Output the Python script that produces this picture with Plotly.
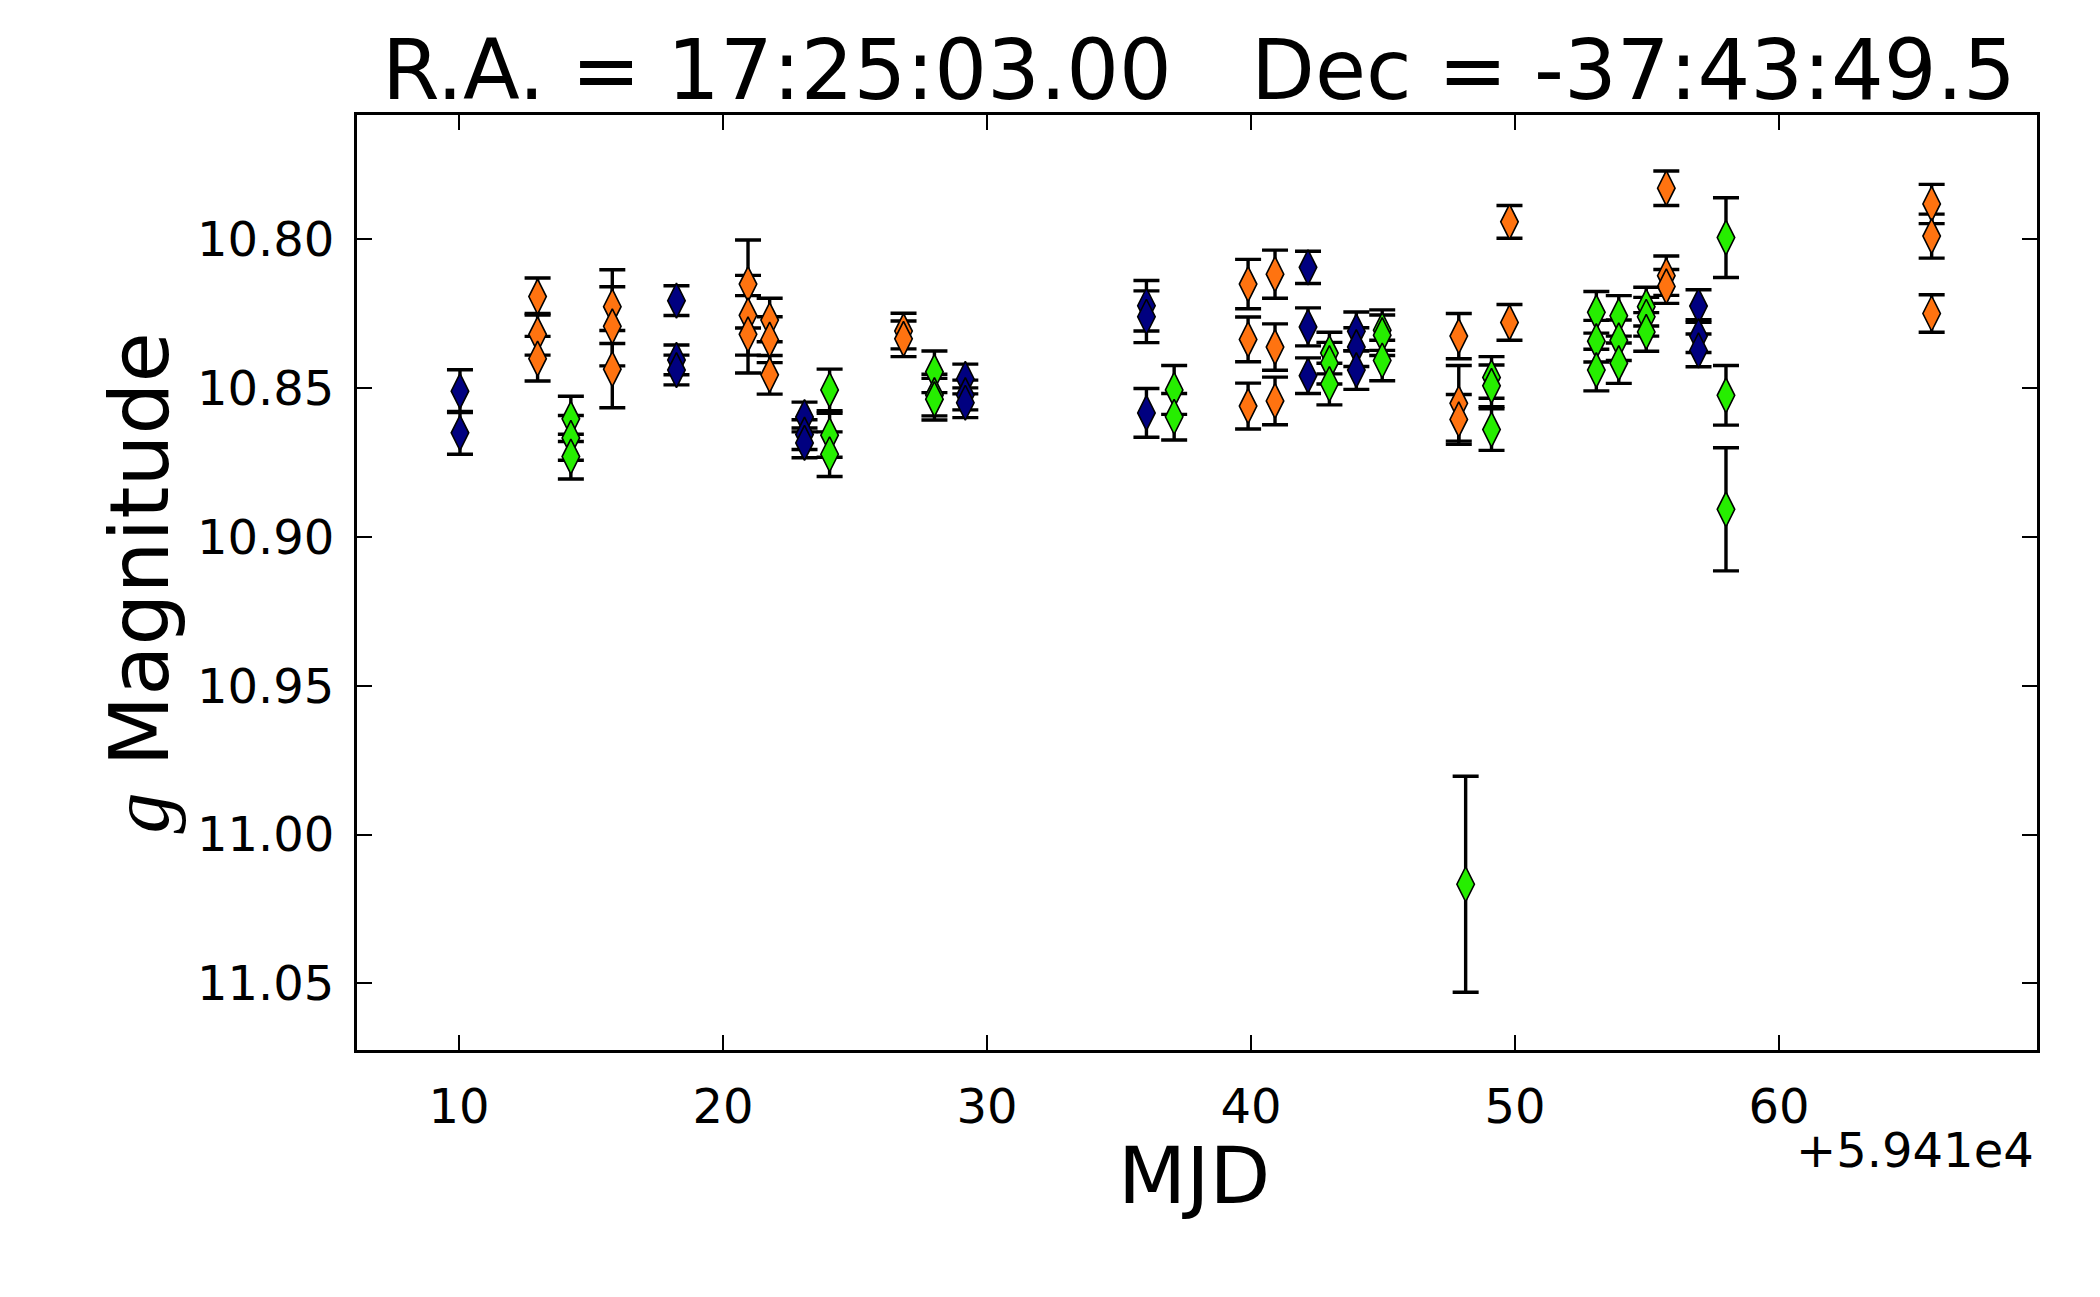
import plotly.graph_objects as go

MJD_OFFSET = 59410
TITLE = "R.A. = 17:25:03.00   Dec = -37:43:49.5"

# Blue (navy) series: MJD - 59410, magnitude, error
blue_x = [10.04, 10.04, 18.24, 18.24, 18.24, 23.09, 23.09, 23.09, 29.18, 29.18, 29.18,
          36.04, 36.04, 36.04, 42.16, 42.16, 42.16, 43.99, 43.99, 43.99, 56.95, 56.95, 56.95]
blue_y = [10.851, 10.865, 10.8206, 10.8405, 10.8439, 10.8597, 10.8656, 10.8684, 10.8469, 10.8523, 10.8549,
          10.8223, 10.826, 10.8583, 10.8094, 10.8294, 10.8458, 10.8309, 10.8362, 10.8439, 10.8224, 10.8325, 10.8373]
blue_e = [0.0072, 0.0072, 0.005, 0.005, 0.005, 0.005, 0.005, 0.005, 0.005, 0.005, 0.005,
          0.0085, 0.0087, 0.0082, 0.0054, 0.0064, 0.006, 0.0065, 0.0065, 0.0065, 0.0055, 0.0055, 0.0055]

# Orange series
orange_x = [12.98, 12.98, 12.98, 15.81, 15.81, 15.81, 20.95, 20.95, 20.95, 21.77, 21.77, 21.77,
            26.84, 26.84, 39.89, 39.89, 39.89, 40.91, 40.91, 40.91, 47.87, 47.87, 47.87,
            49.79, 49.79, 55.73, 55.73, 55.73, 65.78, 65.78, 65.78]
orange_y = [10.8192, 10.8319, 10.8401, 10.8226, 10.8292, 10.8436, 10.815, 10.8255, 10.8319, 10.8271, 10.8337, 10.8455,
            10.8308, 10.8334, 10.815, 10.8336, 10.856, 10.8117, 10.8362, 10.8543, 10.8325, 10.8551, 10.8605,
            10.7941, 10.8279, 10.7828, 10.8122, 10.8158, 10.7881, 10.7989, 10.8249]
orange_e = [0.0062, 0.007, 0.0075, 0.0124, 0.0133, 0.013, 0.0148, 0.0134, 0.013, 0.0073, 0.0077, 0.0065,
            0.006, 0.006, 0.0083, 0.0075, 0.0077, 0.0081, 0.0078, 0.008, 0.0076, 0.0127, 0.0084,
            0.0055, 0.006, 0.0058, 0.0066, 0.0057, 0.0066, 0.0074, 0.0063]

# Green series
green_x = [14.24, 14.24, 14.24, 24.04, 24.04, 24.04, 28.01, 28.01, 28.01, 37.09, 37.09,
           42.97, 42.97, 42.97, 44.97, 44.97, 44.97, 48.13, 49.11, 49.11, 49.11,
           53.08, 53.08, 53.08, 53.93, 53.93, 53.93, 54.97, 54.97, 54.97, 57.99, 57.99, 57.99]
green_y = [10.8603, 10.8667, 10.873, 10.8506, 10.8658, 10.8722, 10.8445, 10.8523, 10.8537, 10.8506, 10.8596,
           10.8382, 10.8416, 10.8486, 10.8305, 10.8322, 10.8407, 11.0167, 10.8464, 10.8492, 10.8639,
           10.8245, 10.8342, 10.8439, 10.8257, 10.8339, 10.8416, 10.8226, 10.826, 10.8311, 10.7994, 10.8524, 10.8907]
green_e = [0.0076, 0.0075, 0.0075, 0.007, 0.0074, 0.0075, 0.007, 0.007, 0.007, 0.0082, 0.0078,
           0.007, 0.007, 0.007, 0.0068, 0.0068, 0.0068, 0.0363, 0.007, 0.007, 0.007,
           0.007, 0.007, 0.007, 0.0068, 0.0068, 0.0068, 0.0065, 0.0065, 0.0065, 0.0134, 0.010, 0.0207]

x_ticks = [10, 20, 30, 40, 50, 60]
y_ticks = [10.80, 10.85, 10.90, 10.95, 11.00, 11.05]
y_tick_text = ["10.80", "10.85", "10.90", "10.95", "11.00", "11.05"]

series = [
    (blue_x, blue_y, blue_e, "#000080"),
    (orange_x, orange_y, orange_e, "#ff7310"),
    (green_x, green_y, green_e, "#26ee00"),
]

FONT = "DejaVu Sans"
fig = go.Figure()
for xs, ys, es, col in series:
    fig.add_trace(go.Scatter(
        x=xs, y=ys, mode="markers",
        marker=dict(symbol="diamond-tall", size=25, color=col,
                    line=dict(color="black", width=1.6)),
        error_y=dict(type="data", array=es, visible=True, color="black",
                     thickness=3.4, width=13),
        showlegend=False,
    ))

axis_common = dict(
    showline=True, linecolor="black", linewidth=3, mirror="ticks",
    ticks="inside", ticklen=15, tickwidth=2, tickcolor="black",
    showgrid=False, zeroline=False,
    tickfont=dict(family=FONT, size=48, color="black"),
)

fig.update_xaxes(range=[6.14, 69.77], tickvals=x_ticks,
                 ticktext=[str(t) for t in x_ticks], ticklabelstandoff=12,
                 **axis_common)
fig.update_yaxes(range=[11.0724, 10.7582], tickvals=y_ticks, ticktext=y_tick_text,
                 ticklabelstandoff=10, **axis_common)

fig.update_layout(
    width=2084, height=1281,
    margin=dict(l=349, r=55, t=107, b=239, pad=0),
    plot_bgcolor="white", paper_bgcolor="white",
    annotations=[
        dict(text=TITLE, x=0.5, y=1, xref="paper", yref="paper",
             xanchor="center", yanchor="middle", yshift=45, xshift=2, showarrow=False,
             font=dict(family=FONT, size=83, color="black")),
        dict(text="MJD", x=0.5, y=0, xref="paper", yref="paper",
             xanchor="center", yanchor="middle", yshift=-126, xshift=-3, showarrow=False,
             font=dict(family=FONT, size=79, color="black")),
        dict(text="+" + format(MJD_OFFSET / 1e4, ".3f").rstrip("0") + "e4",
             x=1, y=0, xref="paper", yref="paper",
             xanchor="right", yanchor="middle", yshift=-100, xshift=-1, showarrow=False,
             font=dict(family=FONT, size=48, color="black")),
        dict(text="<span style='font-family:Liberation Serif'><i>g</i></span> Magnitude",
             x=0, y=0.5, xref="paper", yref="paper", textangle=-90,
             xanchor="center", yanchor="middle", xshift=-218, showarrow=False,
             font=dict(family=FONT, size=82, color="black")),
    ],
)

fig.write_html("out.html")
